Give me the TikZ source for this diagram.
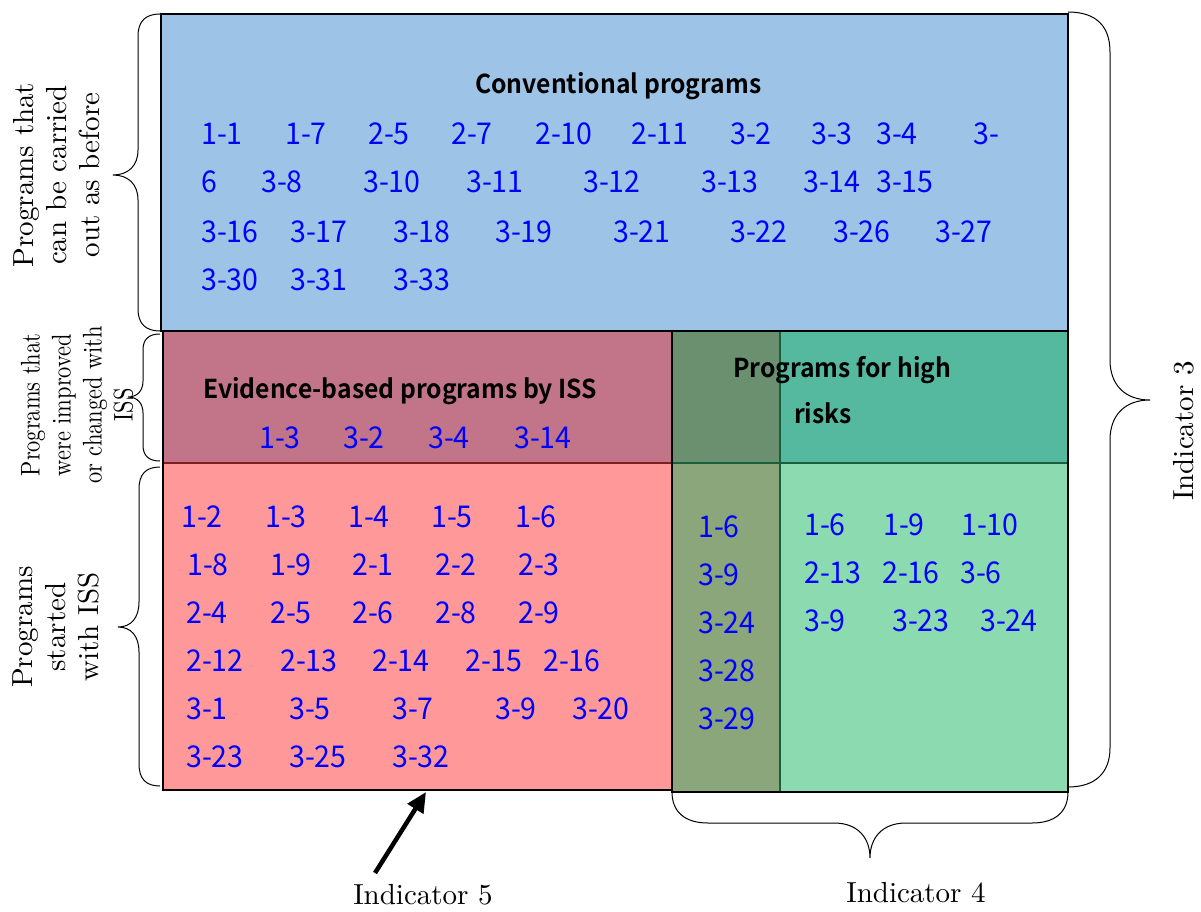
\documentclass[tikz,border=0pt]{standalone}
\usepackage{fontspec}
\usepackage{graphicx}
\setmainfont{lmroman10-regular.otf}
\newfontfamily\jpfont{Noto Sans CJK JP}[FakeStretch=0.95]
\newfontfamily\jpbfont{Noto Sans CJK JP Bold}[FakeStretch=0.95]
\usetikzlibrary{arrows.meta}
\definecolor{blueF}{HTML}{9DC3E6}
\definecolor{mauveF}{HTML}{C27588}
\definecolor{pinkF}{HTML}{FF9999}
\definecolor{tealF}{HTML}{55B9A0}
\definecolor{lgreenF}{HTML}{8CDAB0}
\definecolor{colTop}{HTML}{6B9070}
\definecolor{colBot}{HTML}{8CA67B}
\definecolor{dgreen}{HTML}{1B5E3B}
\definecolor{dred}{HTML}{7F1F1F}
\definecolor{numblue}{HTML}{0000FF}
\tikzset{
  num/.style={anchor=base west, inner sep=0pt, text=numblue, font=\jpfont\fontsize{30}{32}\selectfont},
  ttl/.style={anchor=base west, inner sep=0pt, text=black, font=\jpbfont\fontsize{26}{30}\selectfont},
  side/.style={rotate=90, align=center, inner sep=0pt, font=\fontsize{29}{33}\selectfont},
  ind/.style={inner sep=0pt, font=\fontsize{29}{33}\selectfont},
  brace/.style={draw=black, line width=1pt},
  box/.style={line width=2.5pt, draw=black}
}
\begin{document}
\begin{tikzpicture}[x=1pt,y=-1pt]
\useasboundingbox (0,0) rectangle (1201,912);
% regions
\fill[blueF] (161,14) rectangle (1068,331);
\fill[mauveF] (163,332) rectangle (672,463);
\fill[pinkF] (163,463) rectangle (672,790);
\fill[tealF] (672,331) rectangle (1068,463);
\fill[lgreenF] (672,463) rectangle (1068,792);
\fill[colTop] (672,331) rectangle (780,463);
\fill[colBot] (672,463) rectangle (780,792);
\draw[box] (161,14) rectangle (1068,331);
\draw[dred, line width=2pt] (163,463) -- (672,463);
\draw[black, line width=2.5pt] (163,331) -- (163,790) -- (672,790);
\draw[dgreen, line width=2pt] (672,463) -- (1068,463);
\draw[dgreen, line width=2pt] (780,331) -- (780,792);
\draw[box] (672,331) rectangle (1068,792);
% titles
\node[ttl] (conv) at (475,94) {Conventional programs};
\node[ttl] (evid) at (203,398) {Evidence-based programs by ISS};
\node[ttl] (high1) at (733,377) {Programs for high};
\node[ttl] (high2) at (794,423) {risks};
% conventional numbers
\foreach \x/\t [count=\i] in {203/1-1,287/1-7,370/2-5,453/2-7,537/2-10,633/2-11,732/3-2,813/3-3,878/3-4,975/3-}
  \node[num] (ca\i) at (\x-2,145) {\t};
\foreach \x/\t [count=\i] in {203/6,263/3-8,365/3-10,468/3-11,585/3-12,703/3-13,805/3-14,878/3-15}
  \node[num] (cb\i) at (\x-2,193) {\t};
\foreach \x/\t [count=\i] in {203/3-16,292/3-17,395/3-18,497/3-19,615/3-21,732/3-22,835/3-26,937/3-27}
  \node[num] (cc\i) at (\x-2,242) {\t};
\foreach \x/\t [count=\i] in {203/3-30,292/3-31,395/3-33}
  \node[num] (cd\i) at (\x-2,290) {\t};
% evidence numbers
\foreach \x/\t [count=\i] in {261/1-3,345/3-2,430/3-4,516/3-14}
  \node[num] (ea\i) at (\x-2,448) {\t};
% ISS-started numbers
\foreach \x/\t [count=\i] in {183/1-2,267/1-3,350/1-4,433/1-5,517/1-6}
  \node[num] (pa\i) at (\x-2,527) {\t};
\foreach \x/\t [count=\i] in {189/1-8,272/1-9,354/2-1,437/2-2,520/2-3}
  \node[num] (pb\i) at (\x-2,575) {\t};
\foreach \x/\t [count=\i] in {188/2-4,272/2-5,354/2-6,437/2-8,520/2-9}
  \node[num] (pc\i) at (\x-2,623) {\t};
\foreach \x/\t [count=\i] in {188/2-12,282/2-13,374/2-14,467/2-15,545/2-16}
  \node[num] (pd\i) at (\x-2,671) {\t};
\foreach \x/\t [count=\i] in {188/3-1,291/3-5,394/3-7,497/3-9,574/3-20}
  \node[num] (pe\i) at (\x-2,719) {\t};
\foreach \x/\t [count=\i] in {188/3-23,291/3-25,394/3-32}
  \node[num] (pf\i) at (\x-2,767) {\t};
% overlap column
\foreach \y/\t [count=\i] in {537/1-6,585/3-9,633/3-24,681/3-28,729/3-29}
  \node[num] (oa\i) at (698,\y) {\t};
% high-risk numbers
\foreach \x/\t [count=\i] in {806/1-6,885/1-9,963/1-10}
  \node[num] (ga\i) at (\x-2,535) {\t};
\foreach \x/\t [count=\i] in {806/2-13,884/2-16,962/3-6}
  \node[num] (gb\i) at (\x-2,583) {\t};
\foreach \x/\t [count=\i] in {806/3-9,894/3-23,982/3-24}
  \node[num] (gc\i) at (\x-2,631) {\t};
% side labels
\node[side] (lab1) at (57,175) {Programs that\\can be carried\\out as before};
\node[rotate=90, inner sep=0pt] (lab2) at (80,405) {\scalebox{0.83}[1]{\fontsize{27}{31}\selectfont\begin{tabular}{@{}c@{}}Programs that\\were improved\\or changed with\\ISS\end{tabular}}};
\node[side] (lab3) at (56,627) {Programs\\started\\with ISS};
% braces
\draw[brace] (160,14) .. controls (146,14) and (138,21) .. (138,36) -- (138,150) .. controls (138,166) and (128,175) .. (113,175) .. controls (128,175) and (138,184) .. (138,200) -- (138,309) .. controls (138,324) and (146,331) .. (160,331);
\draw[brace] (160,334) .. controls (149,334) and (143,339) .. (143,350) -- (143,381) .. controls (143,391) and (137,397) .. (128,397) .. controls (137,397) and (143,403) .. (143,413) -- (143,445) .. controls (143,456) and (149,461) .. (160,461);
\draw[brace] (160,467) .. controls (146,467) and (139,474) .. (139,489) -- (139,602) .. controls (139,618) and (131,627) .. (118,627) .. controls (131,627) and (139,636) .. (139,652) -- (139,764) .. controls (139,779) and (146,786) .. (160,786);
\draw[brace] (1068,12) .. controls (1095,12) and (1110,25) .. (1110,52) -- (1110,360) .. controls (1110,385) and (1125,400) .. (1150,400) .. controls (1125,400) and (1110,415) .. (1110,440) -- (1110,748) .. controls (1110,773) and (1095,787) .. (1068,787);
\draw[brace] (672,792) .. controls (672,812) and (685,823) .. (708,823) -- (834,823) .. controls (858,823) and (870,838) .. (870,858) .. controls (870,838) and (882,823) .. (906,823) -- (1032,823) .. controls (1055,823) and (1068,812) .. (1068,792);
% indicators
\node[ind] (ind5) at (423,895) {Indicator 5};
\node[ind] (ind4) at (916,893) {Indicator 4};
\node[ind, rotate=90] (ind3) at (1184,431) {Indicator 3};
\coordinate (arrS) at (375,873);
\coordinate (arrE) at (426,792);
\draw[line width=4.5pt, -{Triangle[length=20pt,width=18pt]}] (arrS) -- (arrE);
\end{tikzpicture}
\end{document}
